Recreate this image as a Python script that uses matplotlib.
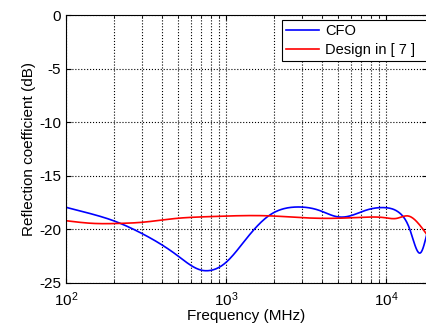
import numpy as np
import matplotlib
matplotlib.use("Agg")
import matplotlib.pyplot as plt
from matplotlib.ticker import LogLocator, NullFormatter

# ============ Dados ============
freq_cfo = [100, 135, 198, 297, 492, 700, 776, 985, 1346, 1840, 2768, 3868,
            4918, 5680, 7570, 9854, 12230, 14130, 16480, 17940]
refl_cfo = [-17.94, -18.44, -19.19, -20.37, -22.39, -23.8, -23.85, -23.16, -20.83,
            -18.75, -17.91, -18.25, -18.81, -18.81, -18.19, -17.97, -18.5, -20.06,
            -22.17, -20.52]

freq_ref = [100, 148, 217, 297, 492, 776, 1977, 2768, 4254, 6879, 9854, 11670,
            13800, 15560, 17940]
refl_ref = [-19.19, -19.44, -19.44, -19.34, -18.97, -18.81, -18.75, -18.88, -18.97,
            -18.88, -18.91, -18.97, -18.75, -19.28, -20.45]

y_ticks = [0, -5, -10, -15, -20, -25]

plt.rcParams['font.family'] = ['Liberation Sans', 'DejaVu Sans']
plt.rcParams['axes.unicode_minus'] = False


def suave(f, v, n=400):
    # spline cúbica natural em log10(f)
    lf = np.log10(f)
    v = np.asarray(v, dtype=float)
    h = np.diff(lf)
    m = len(lf)
    A = np.zeros((m, m))
    b = np.zeros(m)
    A[0, 0] = A[-1, -1] = 1
    for i in range(1, m - 1):
        A[i, i - 1] = h[i - 1]
        A[i, i] = 2 * (h[i - 1] + h[i])
        A[i, i + 1] = h[i]
        b[i] = 3 * ((v[i + 1] - v[i]) / h[i] - (v[i] - v[i - 1]) / h[i - 1])
    c = np.linalg.solve(A, b)
    xs = np.linspace(lf[0], lf[-1], n)
    ys = np.empty_like(xs)
    for k, x in enumerate(xs):
        i = min(np.searchsorted(lf, x, side='right') - 1, m - 2)
        dx = x - lf[i]
        bb = (v[i + 1] - v[i]) / h[i] - h[i] * (2 * c[i] + c[i + 1]) / 3
        d = (c[i + 1] - c[i]) / (3 * h[i])
        ys[k] = v[i] + bb * dx + c[i] * dx ** 2 + d * dx ** 3
    return 10 ** xs, ys


fig = plt.figure(figsize=(4.27, 3.34), dpi=100)
ax = fig.add_axes([0.1546, 0.1527, 0.8454, 0.8023])

fx, fy = suave(freq_cfo, refl_cfo)
rx, ry = suave(freq_ref, refl_ref)
ax.plot(fx, fy, color='#0000ff', lw=1.2, label='CFO')
ax.plot(rx, ry, color='#ff0000', lw=1.2, label='Design in [ 7 ]')

ax.set_xscale('log')
ax.set_xlim(100, 10 ** 4.256)
ax.set_ylim(-25, 0)
ax.set_yticks(y_ticks)
ax.xaxis.set_minor_locator(LogLocator(base=10, subs=np.arange(2, 10)))
ax.xaxis.set_minor_formatter(NullFormatter())
ax.grid(True, which='both', axis='x', color='black', linestyle=':', lw=0.8)
ax.grid(True, which='major', axis='y', color='black', linestyle=':', lw=0.8)
ax.tick_params(which='both', direction='in', labelsize=11, top=True, right=True)
ax.tick_params(axis='x', pad=5)

ax.set_xlabel('Frequency (MHz)', fontsize=11, labelpad=0)
ax.set_ylabel('Reflection coefficient (dB)', fontsize=11, labelpad=2)

# legenda larga, com a borda direita fora da imagem (como no original)
leg = ax.legend(loc='upper left', bbox_to_anchor=(0.598, 0.5, 0.5, 0.481),
                mode='expand', borderaxespad=0, fontsize=10.5,
                fancybox=False, framealpha=1, edgecolor='black',
                handlelength=2.3, handletextpad=0.4, borderpad=0.25,
                labelspacing=0.37)
leg.get_frame().set_linewidth(0.8)

plt.savefig('out.png', dpi=100)
plt.close()
